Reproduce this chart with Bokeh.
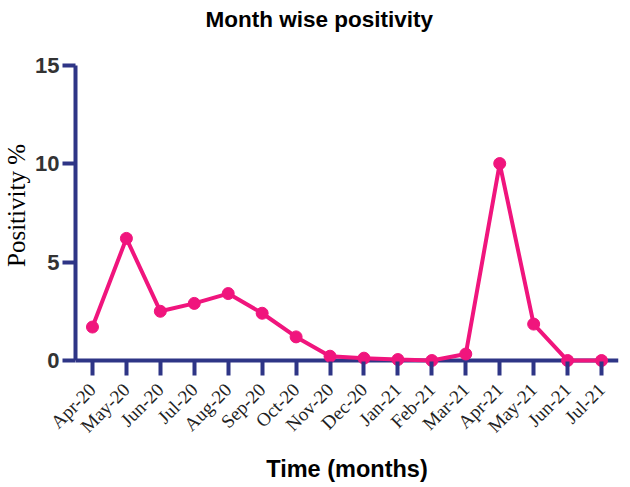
import math
from bokeh.plotting import figure
from bokeh.models import Range1d, FactorRange, Span
from bokeh.embed import file_html
from bokeh.resources import INLINE

months = ["Apr-20", "May-20", "Jun-20", "Jul-20", "Aug-20", "Sep-20", "Oct-20", "Nov-20",
          "Dec-20", "Jan-21", "Feb-21", "Mar-21", "Apr-21", "May-21", "Jun-21", "Jul-21"]
positivity = [1.7, 6.2, 2.5, 2.9, 3.4, 2.4, 1.2, 0.22, 0.12, 0.05, 0.0, 0.33, 10.0, 1.85, 0.0, 0.0]
y_ticks = [0, 5, 10, 15]

AX = "#2E3586"
PINK = "#F0157D"

p = figure(width=622, height=484, x_range=FactorRange(factors=months, range_padding=0),
           y_range=Range1d(-0.76, 16.50),
           output_backend="svg", toolbar_location=None,
           min_border_left=67, min_border_right=4, min_border_top=10, min_border_bottom=104)
p.grid.visible = False
p.outline_line_color = None

p.title.text = "Month wise positivity"
p.title.text_font = "Liberation Sans"
p.title.text_font_style = "bold"
p.title.text_font_size = "22.5px"
p.title.align = "left"
p.title.offset = 130
p.title.standoff = 8
p.title.text_color = "#000000"

# x axis baseline at zero
p.add_layout(Span(location=0, dimension="width", line_color=AX, line_width=4, level="underlay"))

p.line(months, positivity, line_color=PINK, line_width=4)
p.scatter(months, positivity, size=12, fill_color=PINK, line_color=PINK)

xa = p.xaxis[0]
xa.major_label_orientation = math.pi / 4
xa.major_label_standoff = 11
xa.major_label_text_font = "Liberation Serif"
xa.major_label_text_font_size = "19px"
xa.major_label_text_color = "#222222"
xa.minor_tick_line_color = None
xa.major_tick_in = 14
xa.major_tick_out = 0
xa.major_tick_line_width = 4
xa.major_tick_line_color = AX
xa.axis_line_color = None
xa.axis_label = "Time (months)"
xa.axis_label_standoff = 9
xa.axis_label_text_font = "Liberation Sans"
xa.axis_label_text_font_style = "bold"
xa.axis_label_text_font_size = "23.5px"
xa.axis_label_text_color = "#000000"

ya = p.yaxis[0]
ya.bounds = (0, 15)
ya.ticker = y_ticks
ya.major_label_standoff = 3
ya.major_label_text_font = "Liberation Sans"
ya.major_label_text_font_style = "bold"
ya.major_label_text_font_size = "22px"
ya.major_label_text_color = "#333333"
ya.minor_tick_line_color = None
ya.major_tick_in = 0
ya.major_tick_out = 13
ya.major_tick_line_width = 4
ya.major_tick_line_color = AX
ya.axis_line_width = 4
ya.axis_line_color = AX
ya.axis_label = "Positivity %"
ya.axis_label_standoff = 2
ya.axis_label_text_font = "Liberation Serif"
ya.axis_label_text_font_style = "normal"
ya.axis_label_text_font_size = "25px"
ya.axis_label_text_color = "#000000"

open("out.html", "w").write(file_html(p, INLINE))
